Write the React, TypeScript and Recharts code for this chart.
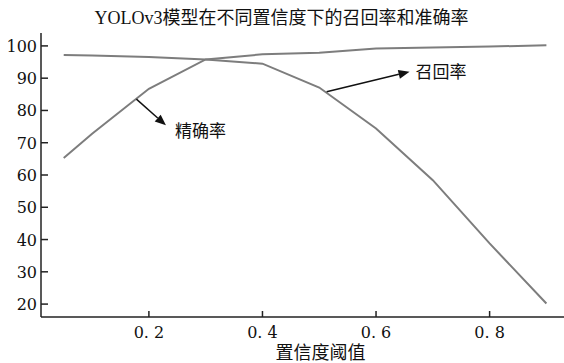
import React from "react";
import {
  Line,
  LineChart,
  ReferenceLine,
  XAxis,
  YAxis,
} from "recharts";

const thresholds = [0.05, 0.1, 0.2, 0.3, 0.4, 0.5, 0.6, 0.7, 0.8, 0.9];
const recall = [97.2, 97.0, 96.6, 95.8, 94.5, 87.1, 74.4, 58.4, 38.8, 20.2];
const precision = [65.3, 72.8, 86.7, 95.8, 97.4, 97.9, 99.2, 99.5, 99.8, 100.2];
const yTicks = [20, 30, 40, 50, 60, 70, 80, 90, 100];
const xTicks = [0.2, 0.4, 0.6, 0.8];

const titleText = "YOLOv3模型在不同置信度下的召回率和准确率";
const xLabel = "置信度阈值";

// annotation arrows, in data coordinates: tail on the curve, head at the label
const notes = [
  { text: "召回率", from: { x: 0.513, y: 85.8 }, to: { x: 0.659, y: 92.0 } },
  { text: "精确率", from: { x: 0.178, y: 83.5 }, to: { x: 0.23, y: 75.4 } },
];

const data = thresholds.map((t, i) => ({
  t,
  recall: recall[i],
  precision: precision[i],
}));

const serif = "'DejaVu Serif', 'Noto Sans CJK SC', serif";
const cjk = "'Noto Sans CJK SC', sans-serif";

const YTick = (props: any) => {
  const { x, y, payload } = props;
  return (
    <g>
      <line x1={x} y1={y} x2={x + 7} y2={y} stroke="#222" strokeWidth={1.5} />
      <text x={x - 4} y={y + 6} textAnchor="end" fontFamily={serif} fontSize={16} fill="#111">
        {payload.value}
      </text>
    </g>
  );
};

const XTick = (props: any) => {
  const { x, y, payload } = props;
  return (
    <g>
      <line x1={x} y1={y} x2={x} y2={y - 6} stroke="#222" strokeWidth={1.5} />
      <text x={x} y={y + 21} textAnchor="middle" fontFamily={serif} fontSize={16} fill="#111">
        {payload.value.toFixed(1).replace(".", ". ")}
      </text>
    </g>
  );
};

const arrowShape = (label: string, labelLeft: boolean) => (props: any) => {
  const { x1, y1, x2, y2 } = props;
  const ang = Math.atan2(y2 - y1, x2 - x1);
  const len = 11;
  const w = 4.5;
  const bx = x2 - len * Math.cos(ang);
  const by = y2 - len * Math.sin(ang);
  const px = -Math.sin(ang) * w;
  const py = Math.cos(ang) * w;
  return (
    <g>
      <line x1={x1} y1={y1} x2={bx} y2={by} stroke="#111" strokeWidth={1.5} />
      <polygon points={`${x2},${y2} ${bx + px},${by + py} ${bx - px},${by - py}`} fill="#111" />
      <text
        x={labelLeft ? x2 + 6 : x2 + 9}
        y={labelLeft ? y2 + 6 : y2 + 12}
        fontFamily={cjk}
        fontSize={17}
        fill="#111"
      >
        {label}
      </text>
    </g>
  );
};

export default function App() {
  return (
    <div style={{ position: "absolute", left: 0, top: 0, width: 564, height: 363, background: "#fff" }}>
      <div
        style={{
          position: "absolute",
          left: 0,
          width: 563,
          top: 7,
          textAlign: "center",
          fontFamily: "'Liberation Serif', 'Noto Sans CJK SC', serif",
          fontSize: 18,
          lineHeight: "22px",
          color: "#111",
        }}
      >
        {titleText}
      </div>
      <LineChart
        width={564}
        height={363}
        data={data}
        margin={{ top: 33, right: 0, bottom: 0, left: 0 }}
      >
        <XAxis
          dataKey="t"
          type="number"
          domain={[0.01, 0.931]}
          ticks={xTicks}
          height={46}
          tickLine={false}
          tickSize={0}
          tickMargin={0}
          tick={<XTick />}
          axisLine={{ stroke: "#222", strokeWidth: 1.5 }}
          allowDataOverflow
          label={{
            value: xLabel,
            position: "insideBottom",
            offset: 4,
            dx: 18,
            fontFamily: cjk,
            fontSize: 18,
            fill: "#111",
          }}
        />
        <XAxis
          xAxisId="top"
          orientation="top"
          dataKey="t"
          type="number"
          domain={[0.01, 0.931]}
          height={0}
          tick={false}
          tickLine={false}
          axisLine={{ stroke: "#222", strokeWidth: 1.5 }}
        />
        <YAxis
          type="number"
          domain={[16, 104]}
          ticks={yTicks}
          width={41}
          tickLine={false}
          tickSize={0}
          tickMargin={0}
          tick={<YTick />}
          axisLine={{ stroke: "#222", strokeWidth: 1.5 }}
          allowDataOverflow
        />
        <Line
          type="linear"
          dataKey="recall"
          stroke="#7d7d7d"
          strokeWidth={2}
          dot={false}
          isAnimationActive={false}
        />
        <Line
          type="linear"
          dataKey="precision"
          stroke="#7d7d7d"
          strokeWidth={2}
          dot={false}
          isAnimationActive={false}
        />
        {notes.map((n, i) => (
          <ReferenceLine
            key={n.text}
            segment={[n.from, n.to]}
            shape={arrowShape(n.text, i === 0)}
            ifOverflow="visible"
          />
        ))}
      </LineChart>
    </div>
  );
}
